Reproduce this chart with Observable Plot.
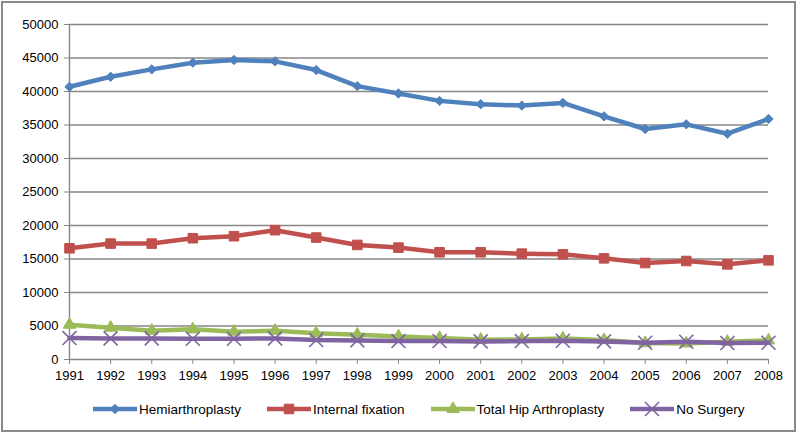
<!DOCTYPE html>
<html>
<head>
<meta charset="utf-8">
<script src="https://cdn.jsdelivr.net/npm/d3@7"></script>
<script src="https://cdn.jsdelivr.net/npm/@observablehq/plot@0.6"></script>
<style>
  html, body { margin: 0; padding: 0; background: #fff; }
  #wrap { position: relative; width: 800px; height: 434px; overflow: hidden; }
  #frame { position: absolute; left: 1px; top: 1px; width: 795px; height: 431px; box-sizing: border-box; border: 2px solid #8a8a8a; pointer-events: none; }
  #chart { position: absolute; left: 0; top: 0; }
  #legend { position: absolute; left: 93px; top: 401px; display: flex; gap: 26px; align-items: center;
            font-family: "Liberation Sans", Arial, sans-serif; font-size: 13.5px; color: #000; }
  .item { display: flex; align-items: center; gap: 2px; }
</style>
</head>
<body>
<div id="wrap">
  <div id="chart"></div>
  <div id="legend"></div>
  <div id="frame"></div>
</div>
<script>
const years = [1991,1992,1993,1994,1995,1996,1997,1998,1999,2000,2001,2002,2003,2004,2005,2006,2007,2008];
const yTicks = [0,5000,10000,15000,20000,25000,30000,35000,40000,45000,50000];
const seriesNames = ["Hemiarthroplasty","Internal fixation","Total Hip Arthroplasty","No Surgery"];
const hemiarthroplasty = [40700,42200,43300,44300,44700,44500,43200,40800,39700,38600,38100,37900,38300,36300,34400,35100,33700,35900];
const internalFixation = [16600,17300,17300,18100,18400,19300,18200,17100,16700,16000,16000,15800,15700,15100,14400,14700,14200,14800];
const totalHip = [5200,4750,4300,4500,4150,4300,3900,3700,3450,3200,2950,3000,3150,2900,2450,2400,2650,2850];
const noSurgery = [3200,3150,3150,3100,3100,3150,2900,2850,2750,2750,2700,2750,2800,2700,2500,2650,2450,2500];
const colors = ["#4F81BD","#C0504D","#9BBB59","#8064A2"];
const symbols = ["diamond2","square","triangle","times"];
const radii = [4.2, 5.4, 4.6, 6.4];

const allValues = [hemiarthroplasty, internalFixation, totalHip, noSurgery];
const rows = [];
seriesNames.forEach((name, i) => {
  years.forEach((yr, j) => rows.push({series: name, idx: i, year: yr, value: allValues[i][j]}));
});

const marks = [
  Plot.gridY(yTicks, {stroke: "#878787", strokeOpacity: 1, strokeWidth: 1.4}),
  Plot.ruleX([1991], {stroke: "#878787", strokeWidth: 1.4}),
  Plot.axisX({ticks: years, tickFormat: d => String(d), tickSize: 5, tickPadding: 6, stroke: "#878787", fill: "#000", label: null}),
  Plot.axisY({ticks: yTicks, tickFormat: d => String(d), tickSize: 5, tickPadding: 6, stroke: "#878787", fill: "#000", label: null})
];
seriesNames.forEach((name, i) => {
  const d = rows.filter(r => r.idx === i);
  marks.push(Plot.line(d, {x: "year", y: "value", stroke: colors[i], strokeWidth: 4.5, curve: "linear"}));
  if (symbols[i] === "times") {
    marks.push(Plot.dot(d, {x: "year", y: "value", symbol: "times", r: radii[i], stroke: colors[i], strokeWidth: 1.6, fill: "none"}));
  } else {
    marks.push(Plot.dot(d, {x: "year", y: "value", symbol: symbols[i], r: radii[i], fill: colors[i], stroke: colors[i], strokeWidth: 1}));
  }
});

const chart = Plot.plot({
  width: 800, height: 390,
  marginLeft: 69, marginRight: 32, marginTop: 24, marginBottom: 31,
  style: {fontFamily: "Liberation Sans, Arial, sans-serif", fontSize: "13px", color: "#000", background: "transparent", overflow: "visible"},
  x: {domain: [1991, 2008], label: null},
  y: {domain: [0, 50000], label: null},
  marks
});
document.getElementById("chart").appendChild(chart);

// legend
const legend = d3.select("#legend");
const d3syms = {diamond2: d3.symbolDiamond2, square: d3.symbolSquare, triangle: d3.symbolTriangle, times: d3.symbolTimes};
seriesNames.forEach((name, i) => {
  const item = legend.append("div").attr("class", "item");
  const svg = item.append("svg").attr("width", 44).attr("height", 16);
  svg.append("line").attr("x1", 0).attr("x2", 44).attr("y1", 8).attr("y2", 8)
    .attr("stroke", colors[i]).attr("stroke-width", 4.5);
  const size = Math.PI * radii[i] * radii[i];
  const p = svg.append("path").attr("transform", "translate(22,8)")
    .attr("d", d3.symbol(d3syms[symbols[i]], size)());
  if (symbols[i] === "times") p.attr("fill", "none").attr("stroke", colors[i]).attr("stroke-width", 1.6);
  else p.attr("fill", colors[i]).attr("stroke", colors[i]);
  item.append("span").text(name);
});
</script>
</body>
</html>
